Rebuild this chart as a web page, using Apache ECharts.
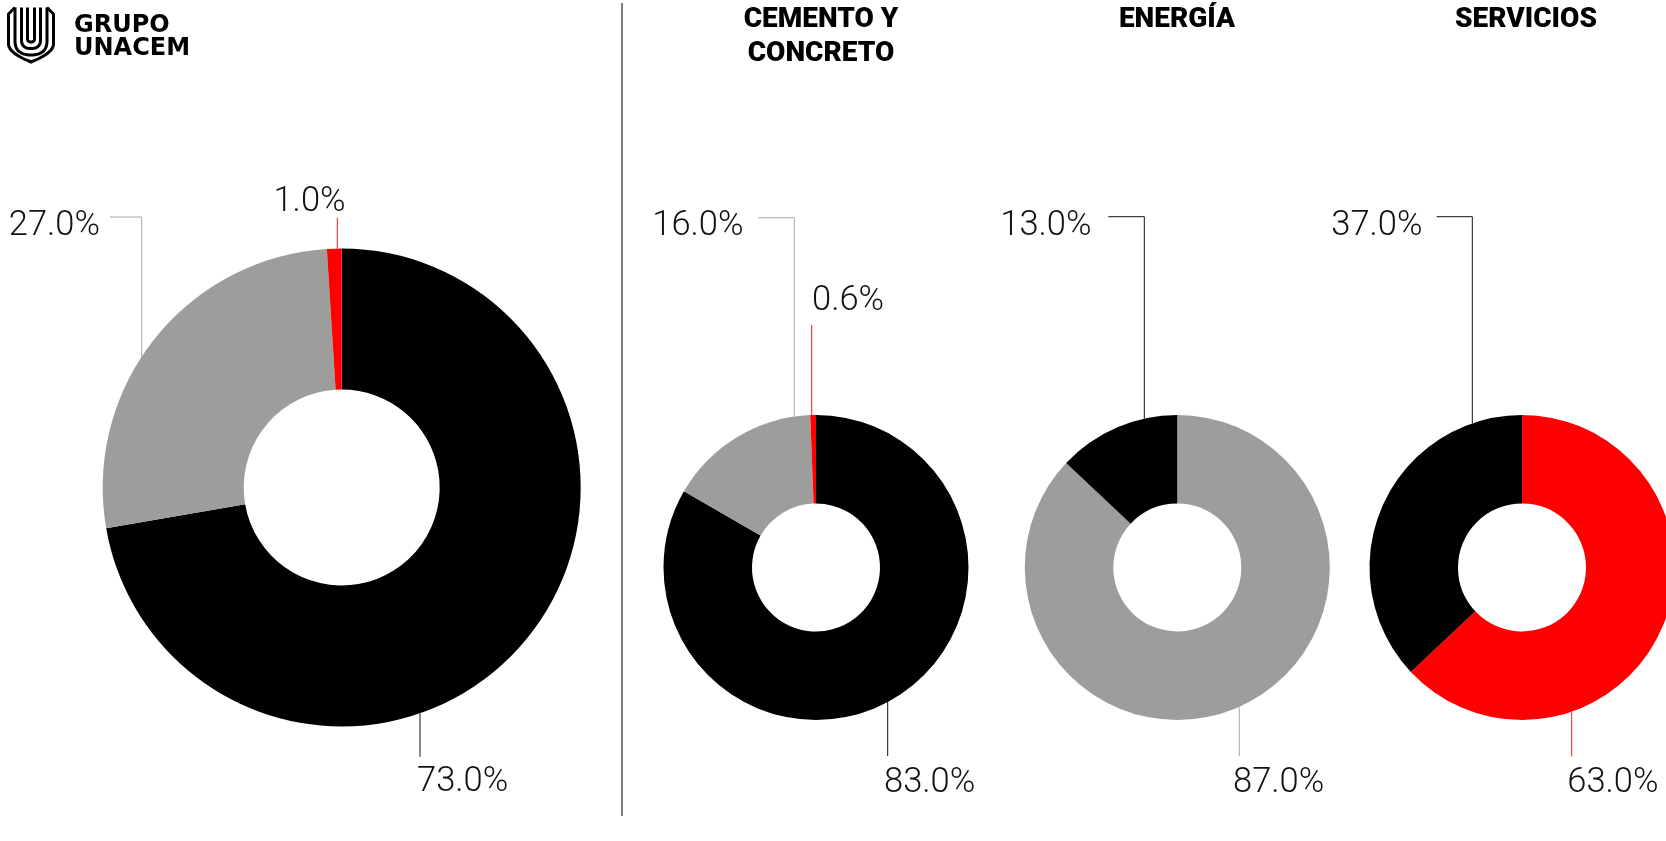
<!DOCTYPE html>
<html>
<head>
<meta charset="utf-8">
<script src="https://cdn.jsdelivr.net/npm/echarts@6/dist/echarts.min.js"></script>
<style>
html,body{margin:0;padding:0;background:#fff;}
#c{width:1666px;height:841px;}
</style>
</head>
<body>
<div id="c"></div>
<script>
// ---------- DATA ----------
const brandTitle = 'GRUPO\nUNACEM';
const segmentTitles = ['CEMENTO Y\nCONCRETO', 'ENERGÍA', 'SERVICIOS'];

const unacemNames = ['Negro', 'Gris', 'Rojo'];
const unacemValues = [73.0, 27.0, 1.0];

const cementoNames = ['Negro', 'Gris', 'Rojo'];
const cementoValues = [83.0, 16.0, 0.6];

const energiaNames = ['Gris', 'Negro'];
const energiaValues = [87.0, 13.0];

const serviciosNames = ['Rojo', 'Negro'];
const serviciosValues = [63.0, 37.0];

// ---------- STYLE / LAYOUT ----------
const colorOf = { Negro: '#000000', Gris: '#9d9d9c', Rojo: '#ff0000' };
const lineColorOf = { Negro: '#111111', Gris: '#a8a8a8', Rojo: '#ff1a1a' };

const labelFont = { fontFamily: 'Roboto', fontWeight: 300, fontSize: 34.5, color: '#111' };

// label layouts: dx = x offset of the leader's vertical segment from pie centre
const pies = [
  { names: unacemNames, values: unacemValues, center: [341.7, 487.5], radius: [98, 239],
    labels: [
      { dx: 78.3, side: 'bottom', lineY: 756.7, tx: 417, ty: 782.5, align: 'left' },
      { dx: -200, side: 'top', lineY: 217, arm: 31.7, tx: 100, ty: 226, align: 'right' },
      { dx: -4.4, side: 'top', lineY: 217.7, tx: 309.5, ty: 202.5, align: 'center' }
    ] },
  { names: cementoNames, values: cementoValues, center: [816, 567.5], radius: [64, 152.5],
    labels: [
      { dx: 71.7, side: 'bottom', lineY: 756, tx: 884, ty: 783, align: 'left' },
      { dx: -21.7, side: 'top', lineY: 217.7, arm: 36, tx: 743.5, ty: 226.5, align: 'right' },
      { dx: -4.3, side: 'top', lineY: 325, tx: 812, ty: 301, align: 'left' }
    ] },
  { names: energiaNames, values: energiaValues, center: [1177.3, 567.5], radius: [64, 152.5],
    labels: [
      { dx: 62, side: 'bottom', lineY: 756, tx: 1233, ty: 783, align: 'left' },
      { dx: -33, side: 'top', lineY: 216.7, arm: 36, tx: 1091.5, ty: 226, align: 'right' }
    ] },
  { names: serviciosNames, values: serviciosValues, center: [1522, 567.5], radius: [64, 152.5],
    labels: [
      { dx: 49.7, side: 'bottom', lineY: 756.7, tx: 1567.3, ty: 783, align: 'left' },
      { dx: -49.7, side: 'top', lineY: 216.7, arm: 35.6, tx: 1422.5, ty: 226, align: 'right' }
    ] }
];

function makeLayout(cfg) {
  return function (params) {
    const L = cfg.labels[params.dataIndex];
    const cx = cfg.center[0], cy = cfg.center[1], R = cfg.radius[1];
    const lx = cx + L.dx;
    const h = Math.sqrt(R * R - L.dx * L.dx);
    const ay = L.side === 'bottom' ? cy + h : cy - h;
    const pts = L.arm
      ? [[lx, ay], [lx, L.lineY], [lx - L.arm, L.lineY]]
      : [[lx, ay], [lx, L.lineY], [lx, L.lineY]];
    return { x: L.tx, y: L.ty, align: L.align, verticalAlign: 'middle', labelLinePoints: pts };
  };
}

const series = pies.map(function (cfg) {
  return {
    type: 'pie',
    center: cfg.center,
    radius: cfg.radius,
    startAngle: 90,
    clockwise: true,
    avoidLabelOverlap: false,
    animation: false,
    silent: true,
    data: cfg.names.map(function (n, i) {
      return {
        name: n,
        value: cfg.values[i],
        itemStyle: { color: colorOf[n] },
        labelLine: { lineStyle: { color: lineColorOf[n], width: 1 } }
      };
    }),
    label: Object.assign({
      show: true,
      position: 'outside',
      formatter: function (p) { return p.value.toFixed(1) + '%'; }
    }, labelFont),
    labelLine: { show: true, smooth: false, length: 10, length2: 10 },
    labelLayout: makeLayout(cfg),
    emphasis: { disabled: true }
  };
});

// logo mark: simple path segments (L = line, Q = quadratic) turned into polylines
function pathToPoints(segs) {
  const pts = [segs[0].slice(1)];
  for (let i = 1; i < segs.length; i++) {
    const s = segs[i];
    const p0 = pts[pts.length - 1];
    if (s[0] === 'L') { pts.push([s[1], s[2]]); }
    else {
      for (let k = 1; k <= 12; k++) {
        const t = k / 12, u = 1 - t;
        pts.push([u * u * p0[0] + 2 * u * t * s[1] + t * t * s[3],
                  u * u * p0[1] + 2 * u * t * s[2] + t * t * s[4]]);
      }
    }
  }
  return pts;
}
const logoPaths = [
  [['M', 15, 7.5], ['L', 8.5, 14], ['L', 8.5, 44], ['Q', 8.5, 53, 31, 62], ['Q', 53.5, 53, 53.5, 44], ['L', 53.5, 14], ['L', 47, 7.5]],
  [['M', 15, 7.5], ['L', 15, 41], ['Q', 15, 55, 31, 55], ['Q', 47, 55, 47, 41], ['L', 47, 7.5]],
  [['M', 21.5, 7.5], ['L', 21.5, 40], ['Q', 21.5, 48.5, 31, 48.5], ['Q', 40.5, 48.5, 40.5, 40], ['L', 40.5, 7.5]],
  [['M', 27.5, 7.5], ['L', 27.5, 38.5], ['Q', 27.5, 42, 31, 42], ['Q', 34.5, 42, 34.5, 38.5], ['L', 34.5, 7.5]]
];

const titleCenters = [821, 1177, 1526];

const graphics = [
  { type: 'line', shape: { x1: 622, y1: 3, x2: 622, y2: 816 },
    style: { stroke: '#333', lineWidth: 1.3 } }
].concat(logoPaths.map(function (p) {
  return { type: 'polyline', shape: { points: pathToPoints(p) },
    style: { stroke: '#000', fill: null, lineWidth: 3, lineJoin: 'miter' } };
})).concat([
  { type: 'text', x: 74, y: 15,
    style: { text: brandTitle, fontFamily: 'DejaVu Sans', fontWeight: 'bold', fontSize: 24,
      lineHeight: 22.5, fill: '#000', align: 'left', verticalAlign: 'top' } }
]).concat(segmentTitles.map(function (t, i) {
  return { type: 'text', x: titleCenters[i], y: 3,
    style: { text: t, fontFamily: 'Roboto', fontWeight: 900, fontSize: 28, lineHeight: 34,
      fill: '#000', align: 'center', verticalAlign: 'top' } };
}));

const chart = echarts.init(document.getElementById('c'), null, { renderer: 'canvas', width: 1666, height: 841 });
chart.setOption({
  backgroundColor: '#fff',
  animation: false,
  series: series,
  graphic: { elements: graphics }
});
</script>
</body>
</html>
